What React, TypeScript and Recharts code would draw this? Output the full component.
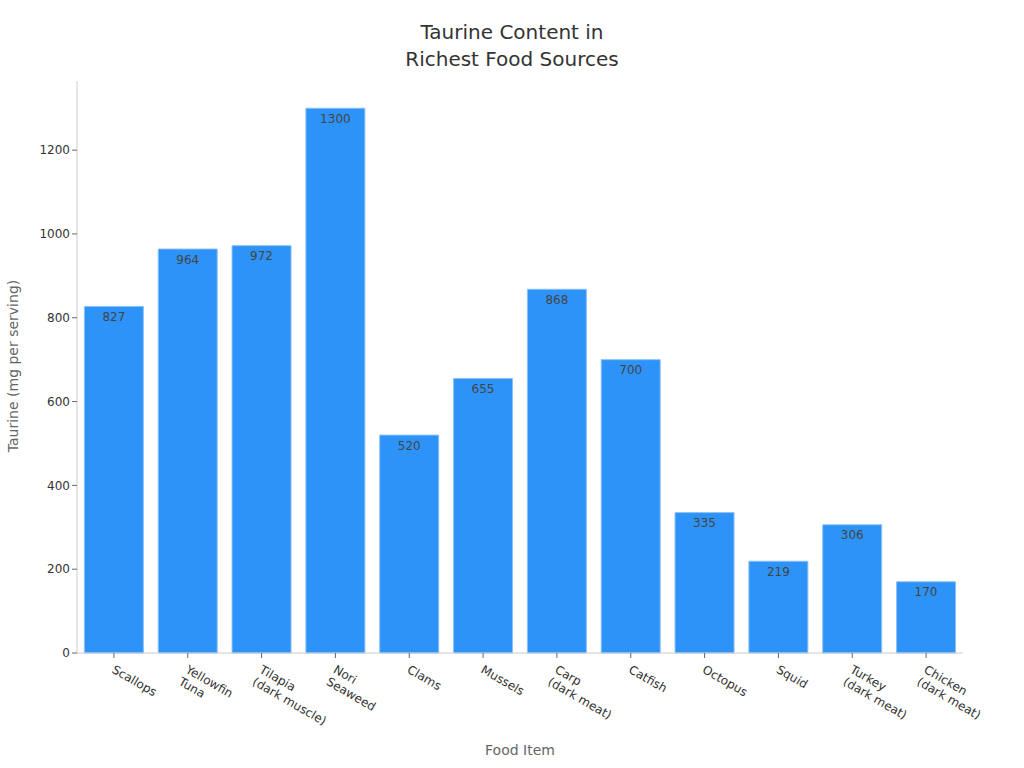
import { BarChart, Bar, XAxis, YAxis, LabelList } from "recharts";

const foods = [
  "Scallops",
  "Yellowfin\nTuna",
  "Tilapia\n(dark muscle)",
  "Nori\nSeaweed",
  "Clams",
  "Mussels",
  "Carp\n(dark meat)",
  "Catfish",
  "Octopus",
  "Squid",
  "Turkey\n(dark meat)",
  "Chicken\n(dark meat)",
];
const taurine = [827, 964, 972, 1300, 520, 655, 868, 700, 335, 219, 306, 170];
const yTicks = [0, 200, 400, 600, 800, 1000, 1200];

const data = foods.map((food, i) => ({ food, taurine: taurine[i] }));

const FONT = "'DejaVu Sans', sans-serif";

const FoodTick = (props: any) => {
  const { x, y, payload } = props;
  const lines = String(payload.value).split("\n");
  return (
    <g transform={`translate(${x - 3},${y + 12}) rotate(30)`}>
      {lines.map((line, i) => (
        <text
          key={i}
          x={0}
          y={i * 14}
          textAnchor="start"
          fontSize={12}
          fill="#333"
          fontFamily={FONT}
        >
          {line}
        </text>
      ))}
    </g>
  );
};

export default function App() {
  return (
    <div
      style={{
        position: "absolute",
        left: 0,
        top: 0,
        width: 1024,
        height: 768,
        background: "#fff",
        fontFamily: FONT,
      }}
    >
      <div
        style={{
          position: "absolute",
          top: 19,
          width: 1024,
          textAlign: "center",
          fontSize: 20,
          lineHeight: "27px",
          color: "#333",
        }}
      >
        Taurine Content in
        <br />
        Richest Food Sources
      </div>
      <div
        style={{
          position: "absolute",
          left: 13,
          top: 366,
          transform: "translate(-50%, -50%) rotate(-90deg)",
          whiteSpace: "nowrap",
          fontSize: 14,
          color: "#666",
        }}
      >
        Taurine (mg per serving)
      </div>
      <div
        style={{
          position: "absolute",
          left: 520,
          top: 750,
          transform: "translate(-50%, -50%)",
          whiteSpace: "nowrap",
          fontSize: 14,
          color: "#666",
        }}
      >
        Food Item
      </div>
      <BarChart
        width={1024}
        height={768}
        data={data}
        margin={{ top: 81, right: 61, bottom: 0, left: 0 }}
        barCategoryGap="10%"
        style={{ position: "absolute", left: 0, top: 0 }}
      >
        <XAxis
          dataKey="food"
          height={115}
          interval={0}
          tick={<FoodTick />}
          axisLine={{ stroke: "#ccc" }}
          tickLine={{ stroke: "#666" }}
          tickSize={5}
        />
        <YAxis
          width={77}
          domain={[0, 1365]}
          ticks={yTicks}
          tick={{ fontSize: 12, fill: "#333", fontFamily: FONT }}
          axisLine={{ stroke: "#ccc" }}
          tickLine={{ stroke: "#666" }}
          tickSize={5}
        />
        <Bar
          dataKey="taurine"
          fill="#2e93f8"
          stroke="#8cc0f5"
          strokeWidth={1}
          isAnimationActive={false}
        >
          <LabelList
            dataKey="taurine"
            position="insideTop"
            offset={6}
            fill="#444"
            fontSize={12}
            fontFamily={FONT}
          />
        </Bar>
      </BarChart>
    </div>
  );
}
